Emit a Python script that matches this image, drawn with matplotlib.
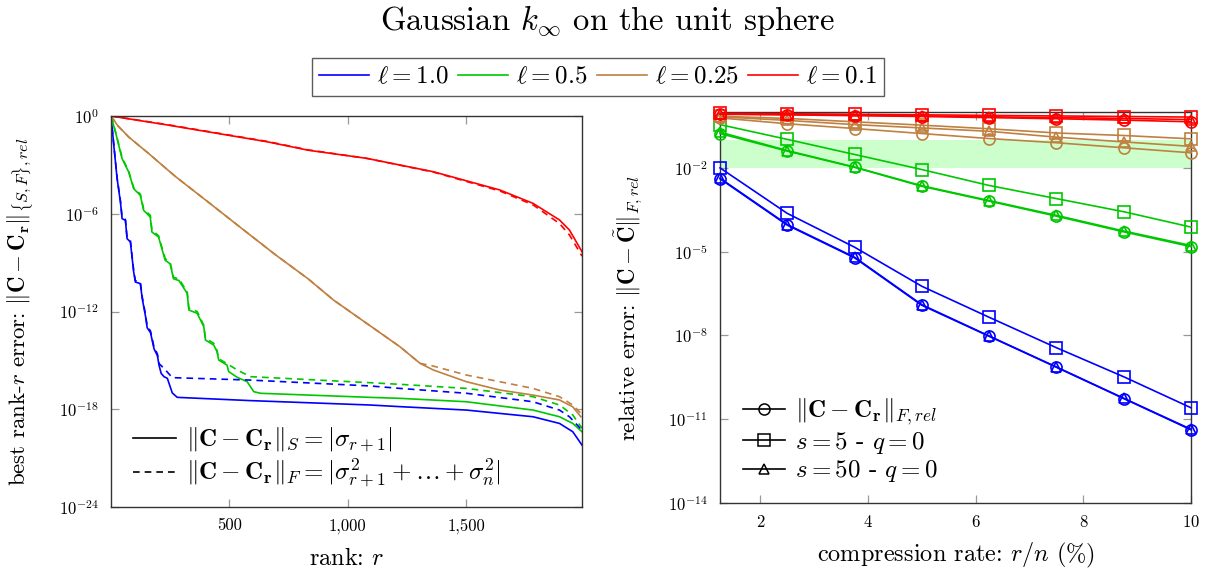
import numpy as np
import matplotlib
matplotlib.use("Agg")
import matplotlib.pyplot as plt
from matplotlib.lines import Line2D
from matplotlib.ticker import FuncFormatter, NullLocator

plt.rcParams['font.family'] = ['cmr10', 'DejaVu Serif']
plt.rcParams['mathtext.fontset'] = 'cm'
plt.rcParams['axes.formatter.use_mathtext'] = True
plt.rcParams['axes.unicode_minus'] = False

COLORS = ['#0000ff', '#00c800', '#bf8040', '#ff0000']
LENGTHS = ['1.0', '0.5', '0.25', '0.1']

# ---- left: best rank-r error, (rank, log10 error) ----
blue_s_r = [1, 13, 27, 41, 48, 62, 69, 83, 97, 104, 125, 133, 147, 154, 168, 183, 197, 204, 213, 225, 239, 260, 281, 590, 1095, 1221, 1502, 1783, 1895, 1951, 1990]
blue_s_e = [0, -1.8, -3.85, -5.28, -6.3, -6.4, -7.53, -7.73, -9.58, -10.19, -10.29, -11.2, -12.3, -13.0, -13.3, -14.3, -14.7, -15.3, -15.8, -16.0, -16.1, -17.0, -17.27, -17.47, -17.74, -17.84, -18.05, -18.46, -18.87, -19.38, -20.2]
blue_f_r = [1, 13, 27, 41, 48, 62, 69, 83, 97, 104, 125, 133, 147, 154, 168, 183, 197, 204, 225, 260, 590, 1095, 1221, 1502, 1783, 1895, 1937, 1990]
blue_f_e = [0, -1.75, -3.8, -5.2, -6.2, -6.35, -7.45, -7.65, -9.5, -10.1, -10.2, -11.1, -12.2, -12.9, -13.2, -14.2, -14.6, -15.2, -15.49, -16.06, -16.21, -16.57, -16.72, -17.02, -17.54, -18.05, -18.46, -19.28]

green_s_r = [1, 20, 48, 76, 97, 125, 139, 167, 174, 202, 230, 251, 265, 288, 323, 330, 365, 393, 400, 435, 449, 456, 491, 498, 534, 576, 604, 632, 1095, 1221, 1502, 1783, 1895, 1951, 1990]
green_s_e = [0, -0.98, -2.62, -3.44, -4.46, -4.87, -5.79, -6.2, -7.12, -7.43, -8.86, -9.07, -9.99, -10.1, -10.89, -11.91, -12.11, -12.93, -13.75, -14.06, -14.47, -14.98, -15.29, -15.69, -16.04, -16.31, -16.92, -17.02, -17.27, -17.33, -17.54, -18.05, -18.46, -18.87, -19.38]
green_f_r = [1, 20, 48, 76, 97, 125, 139, 167, 174, 202, 230, 251, 265, 288, 323, 330, 365, 393, 400, 435, 449, 456, 491, 534, 590, 1095, 1221, 1502, 1783, 1895, 1951, 1990]
green_f_e = [0, -0.95, -2.55, -3.4, -4.4, -4.8, -5.7, -6.1, -7.0, -7.35, -8.75, -9.0, -9.9, -10.0, -10.8, -11.8, -12.0, -12.85, -13.65, -13.95, -14.4, -14.9, -15.2, -15.59, -16.0, -16.37, -16.47, -16.72, -17.23, -17.74, -18.35, -19.17]

brown_s_r = [1, 30, 76, 160, 272, 413, 553, 694, 834, 941, 1081, 1221, 1306, 1362, 1502, 1643, 1783, 1895, 1951, 1985]
brown_s_e = [0, -0.6, -1.29, -2.3, -3.7, -5.3, -6.9, -8.5, -10.0, -11.3, -12.73, -14.16, -15.18, -15.59, -16.31, -16.82, -17.13, -17.43, -17.85, -18.46]
brown_f_r = [1, 30, 76, 160, 272, 413, 553, 694, 834, 941, 1081, 1221, 1306, 1362, 1502, 1643, 1783, 1895, 1951, 1985]
brown_f_e = [0, -0.6, -1.29, -2.3, -3.7, -5.3, -6.9, -8.5, -10.0, -11.3, -12.73, -14.16, -15.18, -15.35, -15.9, -16.31, -16.72, -17.23, -17.74, -18.25]

red_s_r = [1, 239, 660, 834, 1081, 1362, 1643, 1783, 1895, 1937, 1990]
red_s_e = [0, -0.55, -1.58, -2.1, -2.6, -3.42, -4.54, -5.36, -6.38, -7.0, -8.33]
red_f_r = [1, 239, 660, 834, 1081, 1362, 1643, 1783, 1895, 1937, 1990]
red_f_e = [0, -0.53, -1.56, -2.08, -2.6, -3.44, -4.6, -5.45, -6.6, -7.3, -8.6]

left_solid = [(blue_s_r, blue_s_e), (green_s_r, green_s_e), (brown_s_r, brown_s_e), (red_s_r, red_s_e)]
left_dashed = [(blue_f_r, blue_f_e), (green_f_r, green_f_e), (brown_f_r, brown_f_e), (red_f_r, red_f_e)]

# ---- right: relative error vs compression rate, log10 values ----
rate = [1.25, 2.5, 3.75, 5.0, 6.25, 7.5, 8.75, 10.0]

blue_best = [-2.39, -4.05, -5.22, -6.92, -8.03, -9.14, -10.26, -11.38]
blue_s5 = [-2.0, -3.63, -4.84, -6.24, -7.35, -8.44, -9.48, -10.59]
blue_s50 = [-2.37, -4.03, -5.2, -6.9, -8.02, -9.13, -10.25, -11.36]

green_best = [-0.77, -1.40, -1.98, -2.66, -3.19, -3.73, -4.29, -4.82]
green_s5 = [-0.45, -0.98, -1.52, -2.06, -2.63, -3.10, -3.57, -4.12]
green_s50 = [-0.72, -1.38, -1.97, -2.64, -3.17, -3.70, -4.26, -4.78]

brown_best = [-0.21, -0.42, -0.59, -0.77, -0.95, -1.10, -1.28, -1.46]
brown_s5 = [-0.15, -0.23, -0.35, -0.47, -0.60, -0.75, -0.84, -0.96]
brown_s50 = [-0.17, -0.30, -0.45, -0.57, -0.69, -0.90, -1.07, -1.23]

red_best = [-0.08, -0.10, -0.13, -0.16, -0.20, -0.24, -0.29, -0.35]
red_s5 = [-0.05, -0.06, -0.08, -0.10, -0.12, -0.14, -0.16, -0.18]
red_s50 = [-0.07, -0.09, -0.11, -0.14, -0.17, -0.20, -0.23, -0.27]

right_best = [blue_best, green_best, brown_best, red_best]
right_s5 = [blue_s5, green_s5, brown_s5, red_s5]
right_s50 = [blue_s50, green_s50, brown_s50, red_s50]

band = (1e-2, 1e-1)


def style_axes(ax):
    for sp in ax.spines.values():
        sp.set_color('#333333')
        sp.set_linewidth(1.0)
    ax.tick_params(which='both', direction='in', length=6, width=0.9, color='#999999',
                   top=True, right=True, labelsize=12)
    ax.tick_params(axis='x', pad=8)
    ax.tick_params(axis='y', pad=9)
    ax.yaxis.set_minor_locator(NullLocator())
    ax.xaxis.set_minor_locator(NullLocator())


fig = plt.figure(figsize=(12.14, 5.76), dpi=100)
ax1 = fig.add_axes([0.0914, 0.1198, 0.388, 0.6788])
ax2 = fig.add_axes([0.5931, 0.1267, 0.388, 0.6788])

# left panel
for c, (r, e) in zip(COLORS, left_solid):
    ax1.plot(r, 10.0 ** np.array(e), color=c, lw=1.2)
for c, (r, e) in zip(COLORS, left_dashed):
    ax1.plot(r, 10.0 ** np.array(e), color=c, lw=1.2, ls=(0, (4, 3)))
ax1.set_yscale('log')
ax1.set_xlim(1, 1990)
ax1.set_ylim(1e-24, 1e0)
ax1.set_yticks([1e-24, 1e-18, 1e-12, 1e-6, 1e0])
ax1.set_xticks([500, 1000, 1500])
style_axes(ax1)
ax1.yaxis.set_major_formatter(FuncFormatter(lambda v, p: r'$10^{%d}$' % round(np.log10(v))))
ax1.xaxis.set_major_formatter(FuncFormatter(lambda v, p: '{:,}'.format(int(v))))
ax1.set_xlabel(r'rank: $r$', fontsize=17.5, labelpad=10)
ax1.set_ylabel(r'best rank-$r$ error: $\|\mathbf{C}-\mathbf{C_r}\|_{\{S,F\},rel}$', fontsize=16.5, labelpad=16)

h1 = [Line2D([], [], color='k', lw=1.2), Line2D([], [], color='k', lw=1.2, ls=(0, (4, 3)))]
l1 = [r'$\|\mathbf{C}-\mathbf{C_r}\|_S = |\sigma_{r+1}|$',
      r'$\|\mathbf{C}-\mathbf{C_r}\|_F = |\sigma^2_{r+1} + \ldots + \sigma^2_n|$']
ax1.legend(h1, l1, loc='lower left', bbox_to_anchor=(0.0, -0.015), frameon=False,
           fontsize=18, handlelength=1.7, handletextpad=0.4, labelspacing=0.1)

# right panel
ax2.axhspan(band[0], band[1], color='#ccffcc', lw=0, zorder=0)
for c, b, s5, s50 in zip(COLORS, right_best, right_s5, right_s50):
    kw = dict(color=c, lw=1.2, mfc='none', mec=c, mew=1.2, clip_on=False, zorder=3)
    ax2.plot(rate, 10.0 ** np.array(s5), marker='s', ms=8, **kw)
    ax2.plot(rate, 10.0 ** np.array(s50), marker='^', ms=7, **kw)
    ax2.plot(rate, 10.0 ** np.array(b), marker='o', ms=8, **kw)
ax2.set_yscale('log')
ax2.set_xlim(1.25, 10)
ax2.set_ylim(1e-14, 1e0)
ax2.set_yticks([1e-14, 1e-11, 1e-8, 1e-5, 1e-2])
ax2.set_xticks([2, 4, 6, 8, 10])
style_axes(ax2)
ax2.yaxis.set_major_formatter(FuncFormatter(lambda v, p: r'$10^{%d}$' % round(np.log10(v))))
ax2.set_xlabel(r'compression rate: $r/n$ (%)', fontsize=17.5, labelpad=8)
ax2.set_ylabel(r'relative error: $\|\mathbf{C}-\tilde{\mathbf{C}}\|_{F,rel}$', fontsize=16.5, labelpad=16)

h2 = [Line2D([], [], color='k', lw=1.2, marker=m, ms=ms, mfc='none', mew=1.1)
      for m, ms in [('o', 8), ('s', 8), ('^', 7)]]
l2 = [r'$\|\mathbf{C}-\mathbf{C_r}\|_{F,rel}$', r'$s = 5$ - $q = 0$', r'$s = 50$ - $q = 0$']
ax2.legend(h2, l2, loc='lower left', bbox_to_anchor=(0.0, -0.01), frameon=False,
           fontsize=18, handlelength=1.7, handletextpad=0.4, labelspacing=0.1)

# shared legend and title
hl = [Line2D([], [], color=c, lw=1.2) for c in COLORS]
ll = [r'$\ell = %s$' % v for v in LENGTHS]
fig.legend(hl, ll, loc='center', bbox_to_anchor=(0.4926, 0.866), ncol=4, fontsize=18,
           frameon=True, fancybox=False, edgecolor='#333333', handlelength=2.0,
           handletextpad=0.3, columnspacing=0.4, borderpad=0.3)
fig.suptitle(r'Gaussian $k_\infty$ on the unit sphere', fontsize=23.5, y=0.995)

fig.savefig('out.png', dpi=100)
